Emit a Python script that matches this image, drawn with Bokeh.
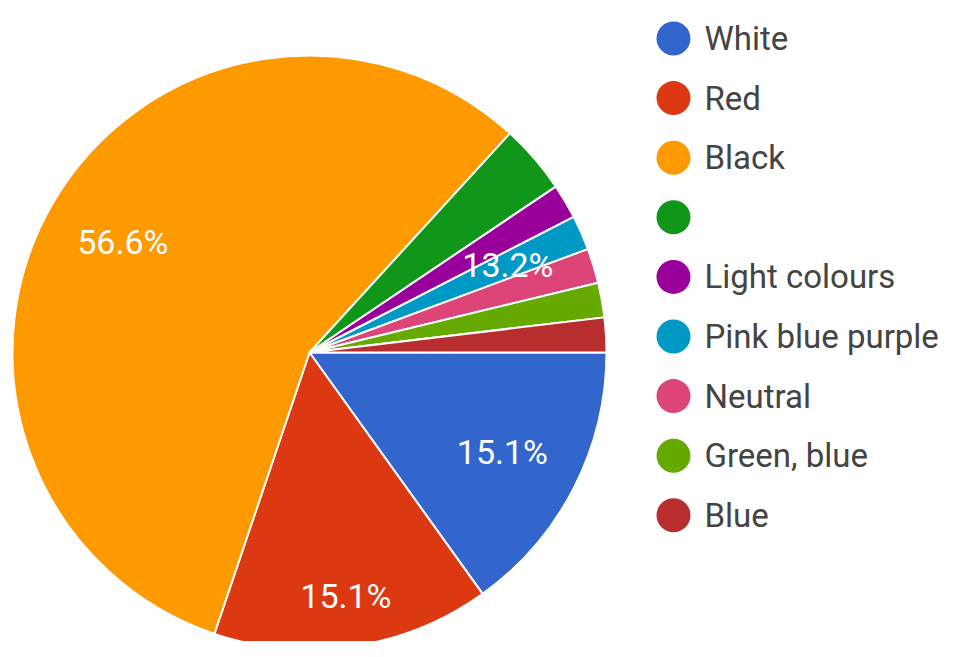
import numpy as np
from bokeh.plotting import figure
from bokeh.models import Range1d, ColumnDataSource
from bokeh.core.properties import value
from bokeh.embed import file_html
from bokeh.resources import INLINE

# ---- data ----
categories = ["White", "Red", "Black", "", "Light colours", "Pink blue purple",
              "Neutral", "Green, blue", "Blue"]
counts = [8, 8, 30, 2, 1, 1, 1, 1, 1]
colors = ["#3366CC", "#DC3912", "#FF9900", "#109618", "#990099", "#0099C6",
          "#DD4477", "#66AA00", "#B82E2E"]
# label groups (Google-style: small slices share one label)
label_groups = [[0], [1], [2], [3, 4, 5, 6, 7, 8]]

# ---- layout / style ----
W, H = 938, 641
PAGE_H = 657
CX, CY_PAGE, R = 309, 352, 297
label_radius_factor = [0.73, 0.83, 0.73, 0.73]
LEG_X, LEG_TEXT_X, LEG_Y0, LEG_DY = 673, 704, 38, 59.6

def py(page_y):
    return PAGE_H - page_y

counts_a = np.array(counts, dtype=float)
total = counts_a.sum()
frac = counts_a / total
cum_end = np.cumsum(frac)
cum_start = cum_end - frac
# clockwise from 3 o'clock
start_angle = -2 * np.pi * cum_end
end_angle = -2 * np.pi * cum_start

p = figure(width=W, height=H, x_range=Range1d(0, W),
           y_range=Range1d(PAGE_H - H, PAGE_H),
           output_backend="svg", toolbar_location=None, min_border=0,
           x_axis_type=None, y_axis_type=None)
p.grid.visible = False
p.outline_line_color = None
p.background_fill_color = "white"

src = ColumnDataSource(dict(cat=categories, start=start_angle, end=end_angle, color=colors))
p.wedge(x=CX, y=py(CY_PAGE), radius=R, start_angle="start", end_angle="end",
        fill_color="color", line_color="white", line_width=2, source=src)

# percentage labels
lx, ly, lt = [], [], []
for g, f in zip(label_groups, label_radius_factor):
    s = cum_start[g[0]]
    e = cum_end[g[-1]]
    mid = -2 * np.pi * (s + e) / 2
    share = counts_a[g].sum() / total
    lx.append(CX + f * R * np.cos(mid))
    ly.append(py(CY_PAGE) + f * R * np.sin(mid))
    lt.append(f"{100 * share:.1f}%")
p.text(x=lx, y=ly, text=lt, text_color="white", text_font=value("Roboto"),
       text_font_size=value("34px"), text_align="center", text_baseline="middle")

# legend
n = len(categories)
leg_y = [py(LEG_Y0 + i * LEG_DY) for i in range(n)]
p.scatter(x=[LEG_X] * n, y=leg_y, size=34, marker="circle", fill_color=colors, line_color=None)
p.text(x=[LEG_TEXT_X] * n, y=leg_y, text=categories, text_color="#444444",
       text_font=value("Roboto"), text_font_size=value("33px"),
       text_align="left", text_baseline="middle")

open("out.html", "w").write(file_html(p, INLINE))
